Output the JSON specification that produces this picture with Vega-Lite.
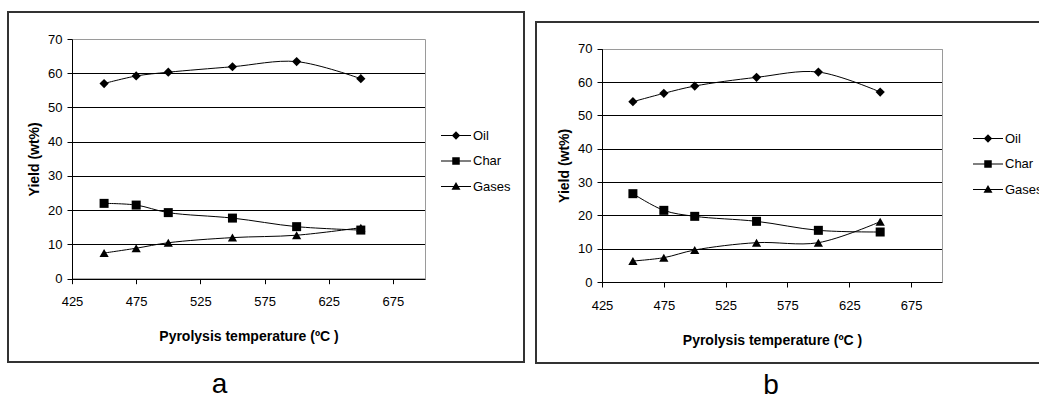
{
  "$schema": "https://vega.github.io/schema/vega-lite/v6.json",
  "background": "white",
  "padding": {"left": 7, "top": 11, "right": 0, "bottom": 0},
  "spacing": 10,
  "resolve": {"scale": {"shape": "independent"}, "legend": {"shape": "independent"}},
  "config": {"font": "Liberation Sans", "axis": {"labelFont": "Liberation Sans", "titleFont": "Liberation Sans"}},
  "data": {"values": [
    {"panel": "a", "product": "Oil", "temp": 450, "yield": 57.0},
    {"panel": "a", "product": "Oil", "temp": 475, "yield": 59.2},
    {"panel": "a", "product": "Oil", "temp": 500, "yield": 60.3},
    {"panel": "a", "product": "Oil", "temp": 550, "yield": 61.9},
    {"panel": "a", "product": "Oil", "temp": 600, "yield": 63.4},
    {"panel": "a", "product": "Oil", "temp": 650, "yield": 58.4},
    {"panel": "a", "product": "Char", "temp": 450, "yield": 22.0},
    {"panel": "a", "product": "Char", "temp": 475, "yield": 21.5},
    {"panel": "a", "product": "Char", "temp": 500, "yield": 19.3},
    {"panel": "a", "product": "Char", "temp": 550, "yield": 17.7},
    {"panel": "a", "product": "Char", "temp": 600, "yield": 15.2},
    {"panel": "a", "product": "Char", "temp": 650, "yield": 14.2},
    {"panel": "a", "product": "Gases", "temp": 450, "yield": 7.5},
    {"panel": "a", "product": "Gases", "temp": 475, "yield": 8.9},
    {"panel": "a", "product": "Gases", "temp": 500, "yield": 10.5},
    {"panel": "a", "product": "Gases", "temp": 550, "yield": 12.0},
    {"panel": "a", "product": "Gases", "temp": 600, "yield": 12.7},
    {"panel": "a", "product": "Gases", "temp": 650, "yield": 14.9},
    {"panel": "b", "product": "Oil", "temp": 450, "yield": 54.1},
    {"panel": "b", "product": "Oil", "temp": 475, "yield": 56.6},
    {"panel": "b", "product": "Oil", "temp": 500, "yield": 58.8},
    {"panel": "b", "product": "Oil", "temp": 550, "yield": 61.4},
    {"panel": "b", "product": "Oil", "temp": 600, "yield": 63.0},
    {"panel": "b", "product": "Oil", "temp": 650, "yield": 57.0},
    {"panel": "b", "product": "Char", "temp": 450, "yield": 26.5},
    {"panel": "b", "product": "Char", "temp": 475, "yield": 21.5},
    {"panel": "b", "product": "Char", "temp": 500, "yield": 19.7},
    {"panel": "b", "product": "Char", "temp": 550, "yield": 18.2},
    {"panel": "b", "product": "Char", "temp": 600, "yield": 15.5},
    {"panel": "b", "product": "Char", "temp": 650, "yield": 15.0},
    {"panel": "b", "product": "Gases", "temp": 450, "yield": 6.3},
    {"panel": "b", "product": "Gases", "temp": 475, "yield": 7.3},
    {"panel": "b", "product": "Gases", "temp": 500, "yield": 9.6},
    {"panel": "b", "product": "Gases", "temp": 550, "yield": 11.8},
    {"panel": "b", "product": "Gases", "temp": 600, "yield": 11.8},
    {"panel": "b", "product": "Gases", "temp": 650, "yield": 18.1}
  ]},
  "hconcat": [
    {
      "width": 516, "height": 350,
      "view": {"stroke": "#333333", "strokeWidth": 2},
      "title": {"text": "a", "orient": "bottom", "anchor": "middle", "frame": "group", "dx": -46.5, "offset": 31, "baseline": "alphabetic", "fontSize": 28, "fontWeight": "normal", "font": "Liberation Sans", "color": "black"},
      "resolve": {"axis": {"x": "independent", "y": "independent"}},
      "layer": [
        {
          "transform": [{"filter": {"field": "panel", "equal": "a"}}],
          "mark": {"type": "line", "interpolate": "catmull-rom", "color": "black", "strokeWidth": 1},
          "encoding": {
            "x": {"field": "temp", "type": "quantitative",
                  "scale": {"domain": [425, 700], "range": [64, 417], "nice": false, "zero": false},
                  "axis": {"orient": "bottom", "offset": -83.3, "values": [425, 475, 525, 575, 625, 675], "grid": false,
                           "domainColor": "black", "tickColor": "black", "tickSize": 5, "labelPadding": 12,
                           "labelFontSize": 13, "labelColor": "black", "labelFlush": false, "labelOverlap": false,
                           "title": "Pyrolysis temperature (ºC )", "titleFontSize": 14, "titleFontWeight": "bold", "titleColor": "black", "titlePadding": 21}},
            "y": {"field": "yield", "type": "quantitative",
                  "scale": {"domain": [0, 70], "range": [266.7, 27], "nice": false, "zero": false},
                  "axis": {"orient": "left", "offset": -64, "values": [0, 10, 20, 30, 40, 50, 60, 70], "grid": true,
                           "gridColor": {"condition": {"test": "datum.value === 70", "value": "#9a9a9a"}, "value": "black"},
                           "gridWidth": 1, "gridOpacity": 1,
                           "domainColor": "black", "tickColor": "black", "tickSize": 5, "labelPadding": 5,
                           "labelFontSize": 13, "labelColor": "black", "labelOverlap": false,
                           "title": "Yield (wt%)", "titleFontSize": 14, "titleFontWeight": "bold", "titleColor": "black", "titlePadding": 6}},
            "detail": {"field": "product", "type": "nominal"}
          }
        },
        {
          "transform": [{"filter": {"field": "panel", "equal": "a"}}, {"filter": {"field": "product", "equal": "Oil"}}],
          "mark": {"type": "point", "shape": "diamond", "filled": true, "color": "black", "opacity": 1, "size": 85},
          "encoding": {
            "x": {"field": "temp", "type": "quantitative", "axis": null},
            "y": {"field": "yield", "type": "quantitative",
                  "axis": {"orient": "right", "offset": -99, "grid": false, "ticks": false, "labels": false, "domainColor": "#9a9a9a", "title": null}}
          }
        },
        {
          "transform": [{"filter": {"field": "panel", "equal": "a"}}, {"filter": {"field": "product", "equal": "Char"}}],
          "mark": {"type": "point", "shape": "square", "filled": true, "color": "black", "opacity": 1, "size": 81},
          "encoding": {
            "x": {"field": "temp", "type": "quantitative", "axis": null},
            "y": {"field": "yield", "type": "quantitative", "axis": null}
          }
        },
        {
          "transform": [{"filter": {"field": "panel", "equal": "a"}}, {"filter": {"field": "product", "equal": "Gases"}}],
          "mark": {"type": "point", "shape": "triangle-up", "filled": true, "color": "black", "opacity": 1, "size": 85},
          "encoding": {
            "x": {"field": "temp", "type": "quantitative", "axis": null},
            "y": {"field": "yield", "type": "quantitative", "axis": null}
          }
        },
        {
          "data": {"values": []},
          "mark": {"type": "point", "filled": true, "color": "black", "opacity": 1},
          "encoding": {
            "shape": {"field": "product", "type": "nominal",
                      "scale": {"domain": ["Oil", "Char", "Gases"],
                                "range": ["M-1,-0.035H1V0.035H-1ZM0,-0.28L0.28,0L0,0.28L-0.28,0Z", "M-1,-0.035H1V0.035H-1ZM-0.25,-0.25H0.25V0.25H-0.25Z", "M-1,-0.035H1V0.035H-1ZM0,-0.3L0.3,0.22L-0.3,0.22Z"]},
                      "legend": {"orient": "none", "legendX": 433, "legendY": 108.5, "title": null, "padding": 0,
                                 "symbolSize": 900, "symbolStrokeWidth": 0, "symbolFillColor": "black", "symbolOpacity": 1,
                                 "labelFont": "Liberation Sans", "labelFontSize": 13, "labelColor": "black", "labelOffset": 2, "rowPadding": 3.5}}
          }
        }
      ]
    },
    {
      "spacing": 0,
      "resolve": {"scale": {"shape": "independent"}, "legend": {"shape": "independent"}},
      "vconcat": [
        {
          "data": {"values": []},
          "width": 505, "height": 9,
          "view": {"stroke": null},
          "mark": {"type": "point"},
          "encoding": {}
        },
        {
          "width": 505, "height": 341,
          "view": {"stroke": "#333333", "strokeWidth": 2},
          "title": {"text": "b", "orient": "bottom", "anchor": "middle", "frame": "group", "dx": -17.5, "offset": 31, "baseline": "alphabetic", "fontSize": 28, "fontWeight": "normal", "font": "Liberation Sans", "color": "black"},
          "resolve": {"axis": {"x": "independent", "y": "independent"}},
          "layer": [
            {
              "transform": [{"filter": {"field": "panel", "equal": "b"}}],
              "mark": {"type": "line", "interpolate": "catmull-rom", "color": "black", "strokeWidth": 1},
              "encoding": {
                "x": {"field": "temp", "type": "quantitative",
                      "scale": {"domain": [425, 700], "range": [66, 406], "nice": false, "zero": false},
                      "axis": {"orient": "bottom", "offset": -81, "values": [425, 475, 525, 575, 625, 675], "grid": false,
                               "domainColor": "black", "tickColor": "black", "tickSize": 5, "labelPadding": 12,
                               "labelFontSize": 13, "labelColor": "black", "labelFlush": false, "labelOverlap": false,
                               "title": "Pyrolysis temperature (ºC )", "titleFontSize": 14, "titleFontWeight": "bold", "titleColor": "black", "titlePadding": 21}},
                "y": {"field": "yield", "type": "quantitative",
                      "scale": {"domain": [0, 70], "range": [260, 26.7], "nice": false, "zero": false},
                      "axis": {"orient": "left", "offset": -66, "values": [0, 10, 20, 30, 40, 50, 60, 70], "grid": true,
                               "gridColor": {"condition": {"test": "datum.value === 70", "value": "#9a9a9a"}, "value": "black"},
                               "gridWidth": 1, "gridOpacity": 1,
                               "domainColor": "black", "tickColor": "black", "tickSize": 5, "labelPadding": 5,
                               "labelFontSize": 13, "labelColor": "black", "labelOverlap": false,
                               "title": "Yield (wt%)", "titleFontSize": 14, "titleFontWeight": "bold", "titleColor": "black", "titlePadding": 6}},
                "detail": {"field": "product", "type": "nominal"}
              }
            },
            {
              "transform": [{"filter": {"field": "panel", "equal": "b"}}, {"filter": {"field": "product", "equal": "Oil"}}],
              "mark": {"type": "point", "shape": "diamond", "filled": true, "color": "black", "opacity": 1, "size": 85},
              "encoding": {
                "x": {"field": "temp", "type": "quantitative", "axis": null},
                "y": {"field": "yield", "type": "quantitative",
                      "axis": {"orient": "right", "offset": -99, "grid": false, "ticks": false, "labels": false, "domainColor": "#9a9a9a", "title": null}}
              }
            },
            {
              "transform": [{"filter": {"field": "panel", "equal": "b"}}, {"filter": {"field": "product", "equal": "Char"}}],
              "mark": {"type": "point", "shape": "square", "filled": true, "color": "black", "opacity": 1, "size": 81},
              "encoding": {
                "x": {"field": "temp", "type": "quantitative", "axis": null},
                "y": {"field": "yield", "type": "quantitative", "axis": null}
              }
            },
            {
              "transform": [{"filter": {"field": "panel", "equal": "b"}}, {"filter": {"field": "product", "equal": "Gases"}}],
              "mark": {"type": "point", "shape": "triangle-up", "filled": true, "color": "black", "opacity": 1, "size": 85},
              "encoding": {
                "x": {"field": "temp", "type": "quantitative", "axis": null},
                "y": {"field": "yield", "type": "quantitative", "axis": null}
              }
            },
            {
              "data": {"values": []},
              "mark": {"type": "point", "filled": true, "color": "black", "opacity": 1},
              "encoding": {
                "shape": {"field": "product", "type": "nominal",
                          "scale": {"domain": ["Oil", "Char", "Gases"],
                                    "range": ["M-1,-0.035H1V0.035H-1ZM0,-0.28L0.28,0L0,0.28L-0.28,0Z", "M-1,-0.035H1V0.035H-1ZM-0.25,-0.25H0.25V0.25H-0.25Z", "M-1,-0.035H1V0.035H-1ZM0,-0.3L0.3,0.22L-0.3,0.22Z"]},
                          "legend": {"orient": "none", "legendX": 437, "legendY": 101.5, "title": null, "padding": 0,
                                     "symbolSize": 900, "symbolStrokeWidth": 0, "symbolFillColor": "black", "symbolOpacity": 1,
                                     "labelFont": "Liberation Sans", "labelFontSize": 13, "labelColor": "black", "labelOffset": 2, "rowPadding": 3.5}}
              }
            }
          ]
        }
      ]
    }
  ]
}
